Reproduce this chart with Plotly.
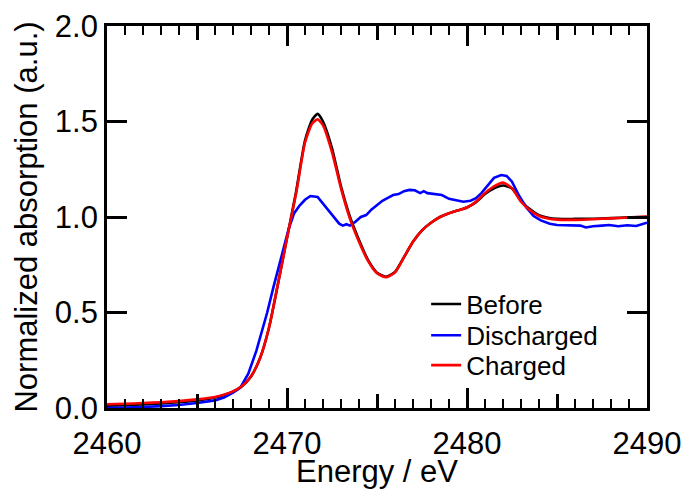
import plotly.graph_objects as go

# ---- data ----
energy_rc = [2460, 2461, 2462, 2463, 2464, 2465, 2466, 2466.5, 2467, 2467.5, 2468, 2468.5,
             2469, 2469.5, 2470, 2470.5, 2471, 2471.4, 2471.7, 2472, 2472.5, 2473, 2473.5,
             2474, 2474.5, 2475, 2475.5, 2476, 2476.5, 2477, 2477.5, 2478, 2478.5, 2479,
             2479.5, 2480, 2480.5, 2481, 2481.5, 2482, 2482.5, 2483, 2483.5, 2484, 2484.5,
             2485, 2486, 2487, 2488, 2489, 2490]

before = [0.012, 0.015, 0.019, 0.024, 0.031, 0.040, 0.055, 0.068, 0.086, 0.114, 0.165, 0.26,
          0.42, 0.65, 0.89, 1.13, 1.40, 1.51, 1.54, 1.50, 1.36, 1.16, 1.00,
          0.88, 0.775, 0.708, 0.687, 0.712, 0.79, 0.87, 0.93, 0.97, 1.0, 1.02,
          1.035, 1.05, 1.078, 1.12, 1.15, 1.165, 1.15, 1.085, 1.04, 1.01, 0.996,
          0.99, 0.99, 0.991, 0.994, 0.998, 1.0]

charged = [0.020, 0.022, 0.026, 0.030, 0.036, 0.045, 0.058, 0.070, 0.087, 0.115, 0.165, 0.26,
           0.42, 0.65, 0.89, 1.12, 1.39, 1.49, 1.511, 1.48, 1.34, 1.15, 0.99,
           0.87, 0.77, 0.705, 0.685, 0.71, 0.79, 0.87, 0.93, 0.97, 1.0, 1.02,
           1.035, 1.05, 1.08, 1.125, 1.16, 1.18, 1.15, 1.08, 1.035, 1.005, 0.992,
           0.986, 0.985, 0.988, 0.993, 0.997, 1.002]

energy_d = [2460, 2461, 2462, 2463, 2464, 2465, 2466, 2466.5, 2467, 2467.4, 2467.85, 2468.3,
            2468.6, 2468.9, 2469.24, 2469.7, 2470.1, 2470.4, 2470.7, 2471.0, 2471.3, 2471.7, 2472.0,
            2472.3, 2472.6, 2472.9, 2473.1, 2473.3, 2473.5, 2473.8, 2474.1, 2474.4, 2474.7,
            2475.0, 2475.3, 2475.6, 2475.9, 2476.2, 2476.5, 2476.8, 2477.1, 2477.4, 2477.6,
            2477.8, 2478.2, 2478.6, 2479.0, 2479.4, 2479.8, 2480.2, 2480.5, 2480.8, 2481.1,
            2481.5, 2481.9, 2482.2, 2482.5, 2482.9, 2483.3, 2483.7, 2484.1, 2484.6, 2485.0,
            2485.6, 2486.3, 2486.6, 2487.0, 2487.5, 2487.9, 2488.4, 2488.9, 2489.4, 2490.0]

discharged = [0.000, 0.002, 0.005, 0.010, 0.016, 0.026, 0.040, 0.055, 0.080, 0.105, 0.18, 0.30,
              0.40, 0.50, 0.63, 0.80, 0.94, 1.02, 1.06, 1.09, 1.11, 1.105, 1.07,
              1.03, 1.00, 0.965, 0.955, 0.962, 0.955, 0.975, 1.0, 1.01, 1.04,
              1.065, 1.085, 1.10, 1.115, 1.12, 1.135, 1.142, 1.14, 1.125, 1.135,
              1.125, 1.12, 1.115, 1.095, 1.088, 1.08, 1.085, 1.098, 1.125, 1.16,
              1.205, 1.22, 1.215, 1.185, 1.11, 1.05, 1.005, 0.982, 0.965, 0.958,
              0.958, 0.955, 0.945, 0.952, 0.955, 0.958, 0.952, 0.957, 0.953, 0.970]

x_range = [2460, 2490]
x_major = [2460, 2470, 2480, 2490]
x_blank_labels = {"2465": "", "2475": "", "2485": ""}
y_range = [0.0, 2.0]

FONT = "Liberation Sans, Arial, Helvetica, sans-serif"

fig = go.Figure()
# transparent copy so that the long-tick overlay axis gets drawn
fig.add_trace(go.Scatter(x=energy_rc, y=charged, xaxis="x2", yaxis="y", mode="lines",
                         opacity=0, showlegend=False, hoverinfo="skip",
                         line=dict(color="rgba(0,0,0,0)", width=0)))

fig.add_trace(go.Scatter(x=energy_rc, y=before, name="Before", mode="lines", legend="legend",
                         line=dict(color="#000000", width=2.6, shape="spline", smoothing=0.6)))
fig.add_trace(go.Scatter(x=energy_d, y=discharged, name="Discharged", mode="lines", legend="legend2",
                         line=dict(color="#0000FF", width=2.6)))
fig.add_trace(go.Scatter(x=energy_rc, y=charged, name="Charged", mode="lines", legend="legend3",
                         line=dict(color="#FF0000", width=2.6, shape="spline", smoothing=0.6)))

leg_common = dict(x=0.591, xanchor="left", yanchor="middle",
                  bgcolor="rgba(0,0,0,0)", font=dict(size=26, family=FONT), itemwidth=30)

fig.update_layout(
    width=685, height=489,
    margin=dict(l=107, r=38, t=26, b=81),
    paper_bgcolor="white", plot_bgcolor="white",
    font=dict(family=FONT, size=31, color="black"),
    showlegend=True,
    legend=dict(y=0.272, **leg_common),
    legend2=dict(y=0.19, **leg_common),
    legend3=dict(y=0.112, **leg_common),
    xaxis=dict(range=x_range, tickmode="linear", tick0=2460, dtick=5,
               labelalias=x_blank_labels,
               ticks="inside", ticklen=14, tickwidth=2.5, tickcolor="black",
               showline=True, linewidth=2.8, linecolor="black", mirror="ticks",
               showgrid=False, zeroline=False, automargin=False,
               ticklabelstandoff=6,
               minor=dict(tickmode="linear", tick0=2460, dtick=1, ticks="inside", ticklen=9,
                          tickwidth=2.2, tickcolor="black", showgrid=False),
               title=dict(text="Energy / eV", standoff=2, font=dict(size=31)),
               tickfont=dict(size=31)),
    xaxis2=dict(range=x_range, overlaying="x", anchor="y", side="bottom",
                tickvals=x_major, showticklabels=False, automargin=False,
                ticks="inside", ticklen=20, tickwidth=2.5, tickcolor="black",
                showline=False, mirror="ticks", showgrid=False, zeroline=False),
    yaxis=dict(range=y_range, tickmode="linear", tick0=0, dtick=0.5, tickformat=".1f",
               ticks="inside", ticklen=20, tickwidth=2.5, tickcolor="black",
               showline=True, linewidth=2.8, linecolor="black", mirror="ticks",
               showgrid=False, zeroline=False, automargin=False,
               title=dict(text="Normalized absorption (a.u.)", standoff=8, font=dict(size=31)),
               tickfont=dict(size=31)),
)

fig.write_html("out.html",
               config={"displayModeBar": False},
               post_script="document.body.style.margin='0';document.body.style.overflow='hidden';")
